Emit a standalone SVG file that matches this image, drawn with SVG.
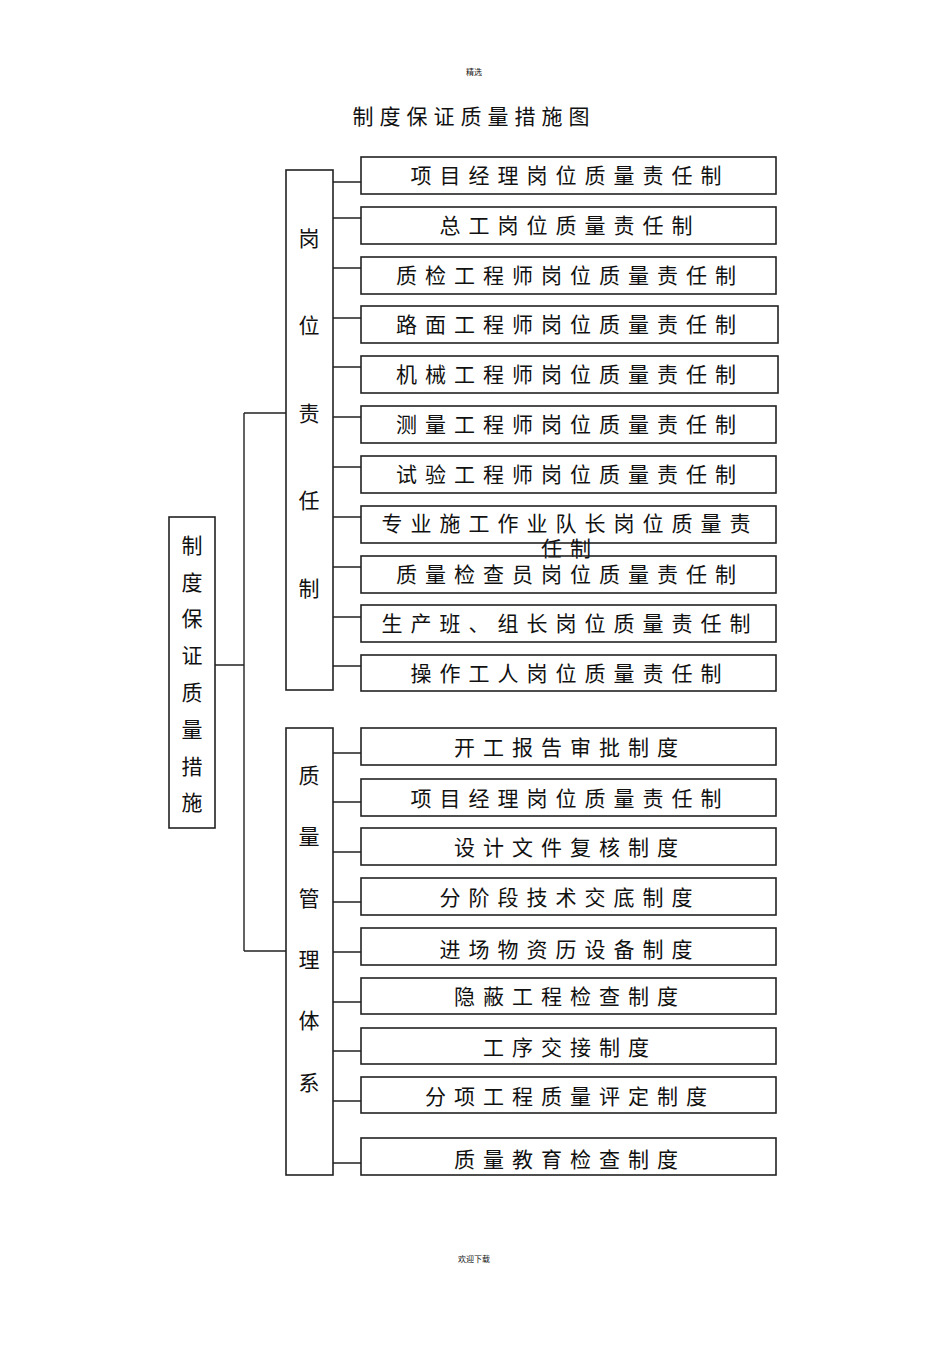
<svg xmlns="http://www.w3.org/2000/svg" width="950" height="1345" viewBox="0 0 950 1345">
<style>
text{font-family:"Liberation Sans","Noto Sans CJK SC",sans-serif;fill:#111}
.b{fill:#fff;stroke:#222;stroke-width:1.6}
.t{font-size:21px;letter-spacing:8px;text-anchor:middle}
.v{font-size:21px;text-anchor:middle}
.c{stroke:#222;stroke-width:1.4;fill:none}
</style>
<rect width="950" height="1345" fill="#fff"/>
<text x="474" y="75" font-size="8" text-anchor="middle">精选</text>
<text x="474" y="1262" font-size="8" text-anchor="middle">欢迎下载</text>
<text x="474" y="124" font-size="21" letter-spacing="6" text-anchor="middle">制度保证质量措施图</text>
<g id="connectors" class="c">
<path d="M215 665H244M244 413V951M244 413H286M244 951H286"/>
<path d="M333 182H361M333 218H361M333 268H361M333 318H361M333 367H361M333 417H361M333 467H361M333 517H361M333 567H361M333 617H361M333 666H361"/>
<path d="M333 753H361M333 802H361M333 852H361M333 902H361M333 952H361M333 1002H361M333 1051H361M333 1101H361M333 1163H361"/>
</g>
<g id="root"><rect class="b" x="169" y="517" width="46" height="311"/>
<text class="v" x="192" y="553">制</text><text class="v" x="192" y="590">度</text><text class="v" x="192" y="626">保</text><text class="v" x="192" y="663">证</text><text class="v" x="192" y="700">质</text><text class="v" x="192" y="737">量</text><text class="v" x="192" y="774">措</text><text class="v" x="192" y="810">施</text></g>
<g id="col1"><rect class="b" x="286" y="170" width="47" height="520"/>
<text class="v" x="309" y="246">岗</text><text class="v" x="309" y="333">位</text><text class="v" x="309" y="421">责</text><text class="v" x="309" y="508">任</text><text class="v" x="309" y="596">制</text></g>
<g id="col2"><rect class="b" x="286" y="728" width="47" height="447"/>
<text class="v" x="309" y="783">质</text><text class="v" x="309" y="844">量</text><text class="v" x="309" y="906">管</text><text class="v" x="309" y="967">理</text><text class="v" x="309" y="1028">体</text><text class="v" x="309" y="1090">系</text></g>
<g id="a1"><rect class="b" x="361" y="157" width="415" height="37"/><text class="t" x="570" y="183">项目经理岗位质量责任制</text></g>
<g id="a2"><rect class="b" x="361" y="207" width="415" height="37"/><text class="t" x="570" y="233">总工岗位质量责任制</text></g>
<g id="a3"><rect class="b" x="361" y="257" width="415" height="37"/><text class="t" x="570" y="283">质检工程师岗位质量责任制</text></g>
<g id="a4"><rect class="b" x="361" y="306" width="417" height="37"/><text class="t" x="570" y="332">路面工程师岗位质量责任制</text></g>
<g id="a5"><rect class="b" x="361" y="356" width="417" height="37"/><text class="t" x="570" y="382">机械工程师岗位质量责任制</text></g>
<g id="a6"><rect class="b" x="361" y="406" width="415" height="37"/><text class="t" x="570" y="432">测量工程师岗位质量责任制</text></g>
<g id="a7"><rect class="b" x="361" y="456" width="415" height="37"/><text class="t" x="570" y="482">试验工程师岗位质量责任制</text></g>
<g id="a8"><rect class="b" x="361" y="506" width="415" height="37"/><text class="t" x="570" y="531">专业施工作业队长岗位质量责</text><text class="t" x="570" y="556">任制</text></g>
<g id="a9"><rect class="b" x="361" y="556" width="415" height="37" fill-opacity="0"/><text class="t" x="570" y="582">质量检查员岗位质量责任制</text></g>
<g id="a10"><rect class="b" x="361" y="605" width="415" height="37"/><text class="t" x="570" y="631">生产班、组长岗位质量责任制</text></g>
<g id="a11"><rect class="b" x="361" y="655" width="415" height="36"/><text class="t" x="570" y="681">操作工人岗位质量责任制</text></g>
<g id="b1"><rect class="b" x="361" y="728" width="415" height="37"/><text class="t" x="570" y="755">开工报告审批制度</text></g>
<g id="b2"><rect class="b" x="361" y="779" width="415" height="37"/><text class="t" x="570" y="806">项目经理岗位质量责任制</text></g>
<g id="b3"><rect class="b" x="361" y="828" width="415" height="37"/><text class="t" x="570" y="855">设计文件复核制度</text></g>
<g id="b4"><rect class="b" x="361" y="878" width="415" height="37"/><text class="t" x="570" y="905">分阶段技术交底制度</text></g>
<g id="b5"><rect class="b" x="361" y="928" width="415" height="37"/><text class="t" x="570" y="957">进场物资历设备制度</text></g>
<g id="b6"><rect class="b" x="361" y="978" width="415" height="36"/><text class="t" x="570" y="1004">隐蔽工程检查制度</text></g>
<g id="b7"><rect class="b" x="361" y="1028" width="415" height="36"/><text class="t" x="570" y="1055">工序交接制度</text></g>
<g id="b8"><rect class="b" x="361" y="1077" width="415" height="36"/><text class="t" x="570" y="1104">分项工程质量评定制度</text></g>
<g id="b9"><rect class="b" x="361" y="1138" width="415" height="37"/><text class="t" x="570" y="1167">质量教育检查制度</text></g>
</svg>
